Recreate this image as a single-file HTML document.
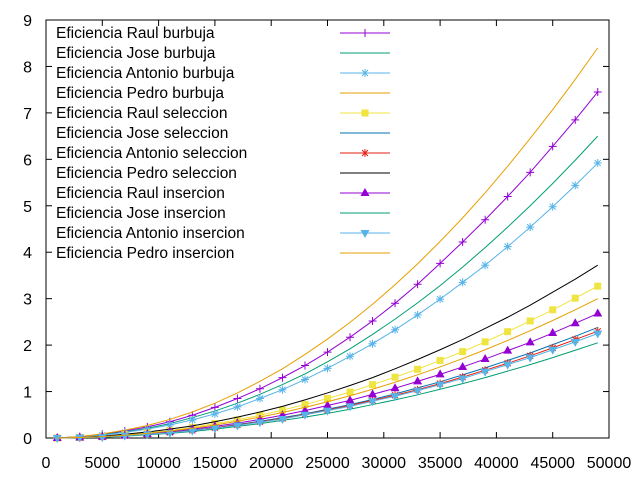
<!DOCTYPE html>
<html><head><meta charset="utf-8"><style>body{margin:0;background:#fff}svg{display:block;font-family:"Liberation Sans",sans-serif}</style></head>
<body>
<svg id="chart" width="640" height="480"></svg>
<script>
const xValues=[1000,3000,5000,7000,9000,11000,13000,15000,17000,19000,21000,23000,25000,27000,29000,31000,33000,35000,37000,39000,41000,43000,45000,47000,49000];
const xTicks=[0,5000,10000,15000,20000,25000,30000,35000,40000,45000,50000];
const yTicks=[0,1,2,3,4,5,6,7,8,9];
const seriesNames=["Eficiencia Raul burbuja","Eficiencia Jose burbuja","Eficiencia Antonio burbuja","Eficiencia Pedro burbuja","Eficiencia Raul seleccion","Eficiencia Jose seleccion","Eficiencia Antonio seleccion","Eficiencia Pedro seleccion","Eficiencia Raul insercion","Eficiencia Jose insercion","Eficiencia Antonio insercion","Eficiencia Pedro insercion"];
const raulBurbuja=[0,0.03,0.08,0.15,0.24,0.35,0.49,0.66,0.85,1.06,1.30,1.56,1.85,2.17,2.52,2.90,3.31,3.76,4.22,4.70,5.20,5.72,6.28,6.85,7.45];
const joseBurbuja=[0,0.02,0.07,0.13,0.21,0.31,0.44,0.58,0.75,0.94,1.15,1.38,1.64,1.92,2.23,2.56,2.91,3.28,3.68,4.10,4.54,5.00,5.48,5.98,6.50];
const antonioBurbuja=[0,0.02,0.06,0.12,0.19,0.28,0.39,0.52,0.67,0.85,1.04,1.26,1.50,1.76,2.03,2.33,2.65,2.99,3.35,3.72,4.12,4.54,4.98,5.44,5.92];
const pedroBurbuja=[0,0.03,0.09,0.17,0.27,0.40,0.56,0.75,0.97,1.22,1.49,1.80,2.13,2.49,2.88,3.30,3.75,4.23,4.74,5.28,5.85,6.45,7.07,7.72,8.40];
const raulSeleccion=[0,0.01,0.03,0.07,0.11,0.16,0.23,0.31,0.39,0.49,0.60,0.72,0.85,0.99,1.15,1.31,1.48,1.67,1.86,2.07,2.29,2.52,2.76,3.01,3.27];
const joseSeleccion=[0,0.01,0.02,0.05,0.08,0.12,0.17,0.22,0.29,0.36,0.44,0.52,0.62,0.72,0.83,0.95,1.08,1.21,1.36,1.51,1.67,1.83,2.01,2.19,2.38];
const antonioSeleccion=[0,0.01,0.02,0.05,0.08,0.12,0.16,0.22,0.28,0.35,0.42,0.51,0.60,0.70,0.81,0.92,1.04,1.17,1.31,1.46,1.61,1.77,1.94,2.12,2.30];
const pedroSeleccion=[0,0.01,0.04,0.08,0.13,0.19,0.26,0.35,0.45,0.56,0.68,0.82,0.97,1.13,1.30,1.49,1.69,1.90,2.12,2.36,2.60,2.86,3.14,3.42,3.72];
const raulInsercion=[0,0.01,0.03,0.05,0.09,0.14,0.19,0.25,0.32,0.40,0.49,0.59,0.70,0.81,0.94,1.07,1.22,1.37,1.53,1.70,1.88,2.06,2.26,2.47,2.68];
const joseInsercion=[0,0.01,0.02,0.04,0.07,0.10,0.14,0.19,0.25,0.31,0.38,0.45,0.53,0.62,0.72,0.82,0.93,1.05,1.17,1.30,1.44,1.58,1.73,1.89,2.05];
const antonioInsercion=[0,0.01,0.02,0.05,0.08,0.11,0.16,0.21,0.27,0.34,0.41,0.50,0.59,0.68,0.79,0.90,1.02,1.15,1.28,1.43,1.58,1.73,1.90,2.07,2.25];
const pedroInsercion=[0,0.01,0.03,0.06,0.10,0.15,0.21,0.28,0.36,0.45,0.55,0.66,0.78,0.91,1.05,1.20,1.36,1.53,1.71,1.90,2.10,2.31,2.53,2.76,3.00];
const seriesData=[raulBurbuja,joseBurbuja,antonioBurbuja,pedroBurbuja,raulSeleccion,joseSeleccion,antonioSeleccion,pedroSeleccion,raulInsercion,joseInsercion,antonioInsercion,pedroInsercion];
const colors=["#9400d3","#009e73","#56b4e9","#e69f00","#f0e442","#0072b2","#e51e10","#000000","#9400d3","#009e73","#56b4e9","#e69f00"];
const markers=["plus",null,"star",null,"square",null,"star",null,"tri",null,"tridown",null];
const L=46,R=609,T=20,B=438;
const sx=v=>L+(v-0)/(50000)*(R-L);
const sy=v=>B-v/9*(B-T);
const svg=document.getElementById('chart');
const NS="http://www.w3.org/2000/svg";
function mk(tag,attrs,parent){const e=document.createElementNS(NS,tag);for(const k in attrs)e.setAttribute(k,attrs[k]);(parent||svg).appendChild(e);return e;}
xTicks.forEach(t=>{const x=sx(t);
 const g=mk('g',{});
 
 
 mk('line',{x1:x,y1:B,x2:x,y2:B-6,stroke:'#000'},g);
 mk('line',{x1:x,y1:T,x2:x,y2:T+6,stroke:'#000'},g);
 const tx=mk('text',{x:x,y:B+30,'text-anchor':'middle','font-size':16},g);tx.textContent=t;
});
yTicks.forEach(t=>{const y=sy(t);
 const g=mk('g',{});
 
 
 mk('line',{x1:L,y1:y,x2:L+6,y2:y,stroke:'#000'},g);
 mk('line',{x1:R,y1:y,x2:R-6,y2:y,stroke:'#000'},g);
 const tx=mk('text',{x:32,y:y+6,'text-anchor':'end','font-size':16},g);tx.textContent=t;
});
const frame=mk('rect',{x:L,y:T,width:R-L,height:B-T,fill:'none',stroke:'#000'});


function marker(type,x,y,c,parent){
 if(type==='plus'){mk('path',{d:`M${x-4} ${y}h8M${x} ${y-4}v8`,stroke:c,fill:'none'},parent);}
 else if(type==='star'){mk('path',{d:`M${x-4} ${y}h8M${x} ${y-4}v8M${x-3} ${y-3}l6 6M${x-3} ${y+3}l6 -6`,stroke:c,fill:'none'},parent);}
 else if(type==='square'){mk('rect',{x:x-3.5,y:y-3.5,width:7,height:7,fill:c},parent);}
 else if(type==='tri'){mk('path',{d:`M${x} ${y-5}L${x+4.5} ${y+3}L${x-4.5} ${y+3}Z`,fill:c},parent);}
 else if(type==='tridown'){mk('path',{d:`M${x} ${y+5}L${x+4.5} ${y-3}L${x-4.5} ${y-3}Z`,fill:c},parent);}
}
seriesData.forEach((d,i)=>{
 const g=mk('g',{});
 
 
 const pts=d.map((v,j)=>sx(xValues[j])+','+sy(v)).join(' ');
 mk('polyline',{points:pts,fill:'none',stroke:colors[i],'stroke-width':1},g);
 if(markers[i])d.forEach((v,j)=>marker(markers[i],sx(xValues[j]),sy(v),colors[i],g));
 const ly=33+i*20;
 const lg=mk('g',{});
 
 
 const tx=mk('text',{x:56,y:ly+5,'font-size':15.5},lg);tx.textContent=seriesNames[i];
 mk('line',{x1:340,y1:ly,x2:390,y2:ly,stroke:colors[i]},lg);
 if(markers[i])marker(markers[i],365,ly,colors[i],lg);
});
</script>
</body></html>
